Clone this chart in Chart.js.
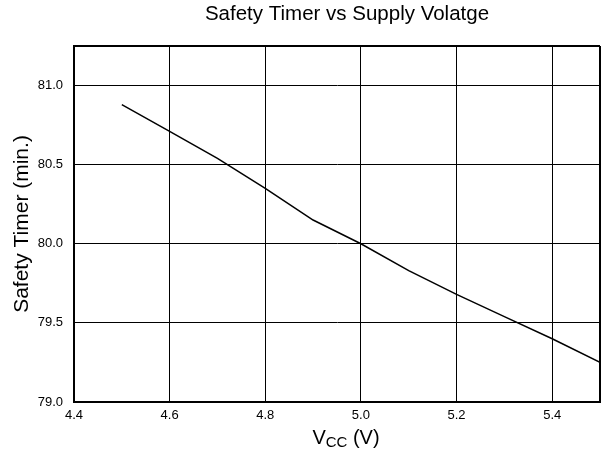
<!DOCTYPE html>
<html>
<head>
<meta charset="utf-8">
<script src="https://cdn.jsdelivr.net/npm/chart.js@4.4.1/dist/chart.umd.min.js"></script>
<style>
  body { margin: 0; background: #fff; }
  #wrap { width: 604px; height: 459px; }
</style>
</head>
<body>
<div id="wrap"><canvas id="chart"></canvas></div>
<script>
const vcc = [4.5, 4.6, 4.7, 4.8, 4.9, 5.0, 5.1, 5.2, 5.3, 5.4, 5.5];
const safetyTimer = [80.88, 80.71, 80.54, 80.35, 80.15, 80.0, 79.83, 79.68, 79.54, 79.40, 79.25];
const xTicks = [4.4, 4.6, 4.8, 5.0, 5.2, 5.4];
const yTicks = [79.0, 79.5, 80.0, 80.5, 81.0];
const xMax = 5.5;
const yMax = 81.25;
const chartTitle = 'Safety Timer vs Supply Volatge';
const yTitle = 'Safety Timer (min.)';

const FONT = 'Arial, "Liberation Sans", Helvetica, sans-serif';

// title and V_CC label with subscript, drawn by hand
const textPlugin = {
  id: 'texts',
  afterDraw(chart) {
    const ctx = chart.ctx;
    ctx.save();
    ctx.fillStyle = '#000';
    ctx.textBaseline = 'alphabetic';
    ctx.textAlign = 'center';
    ctx.font = '20.5px ' + FONT;
    ctx.fillText(chartTitle, 347, 20);

    // V_CC (V)
    const big = '20px ' + FONT, small = '15px ' + FONT;
    ctx.font = big;
    const wV = ctx.measureText('V').width;
    const wRest = ctx.measureText(' (V)').width;
    ctx.font = small;
    const wCC = ctx.measureText('CC').width;
    let x = 346 - (wV + wCC + wRest) / 2;
    ctx.textAlign = 'left';
    ctx.font = big;
    ctx.fillText('V', x, 444);
    x += wV;
    ctx.font = small;
    ctx.fillText('CC', x, 447);
    x += wCC;
    ctx.font = big;
    ctx.fillText(' (V)', x, 444);
    ctx.restore();
  }
};

new Chart(document.getElementById('chart'), {
  type: 'line',
  data: {
    datasets: [{
      data: vcc.map((v, i) => ({ x: v, y: safetyTimer[i] })),
      borderColor: '#000',
      borderWidth: 1.5,
      pointRadius: 0,
      tension: 0,
      fill: false
    }]
  },
  options: {
    responsive: true,
    maintainAspectRatio: false,
    animation: false,
    layout: { padding: { left: 0, right: 4, top: 46, bottom: 0 } },
    plugins: {
      legend: { display: false },
      tooltip: { enabled: false },
      title: { display: false }
    },
    scales: {
      x: {
        type: 'linear',
        min: 4.4,
        max: xMax,
        afterBuildTicks: s => { s.ticks = xTicks.concat([xMax]).map(v => ({ value: v })); },
        afterFit: s => { s.height = 57; s.paddingRight = 0; s.paddingLeft = 0; },
        ticks: {
          color: '#000',
          font: { family: FONT, size: 13 },
          padding: 6,
          maxRotation: 0,
          callback: v => xTicks.includes(v) ? v.toFixed(1) : ''
        },
        grid: {
          color: '#000',
          lineWidth: c => (c.tick && c.tick.value === xMax) ? 2 : 1,
          drawTicks: false
        },
        border: { display: true, color: '#000', width: 2 }
      },
      y: {
        type: 'linear',
        min: 79.0,
        max: yMax,
        afterBuildTicks: s => { s.ticks = yTicks.concat([yMax]).map(v => ({ value: v })); },
        afterFit: s => { s.width = 74; s.paddingTop = 0; s.paddingBottom = 0; },
        ticks: {
          color: '#000',
          font: { family: FONT, size: 13 },
          padding: 11,
          callback: v => yTicks.includes(v) ? v.toFixed(1) : ''
        },
        grid: {
          color: '#000',
          lineWidth: c => (c.tick && c.tick.value === yMax) ? 2 : 1,
          drawTicks: false
        },
        border: { display: true, color: '#000', width: 2 },
        title: {
          display: true,
          text: yTitle,
          color: '#000',
          font: { family: FONT, size: 21 },
          padding: { top: 10, bottom: 0 }
        }
      }
    }
  },
  plugins: [textPlugin]
});
</script>
</body>
</html>
